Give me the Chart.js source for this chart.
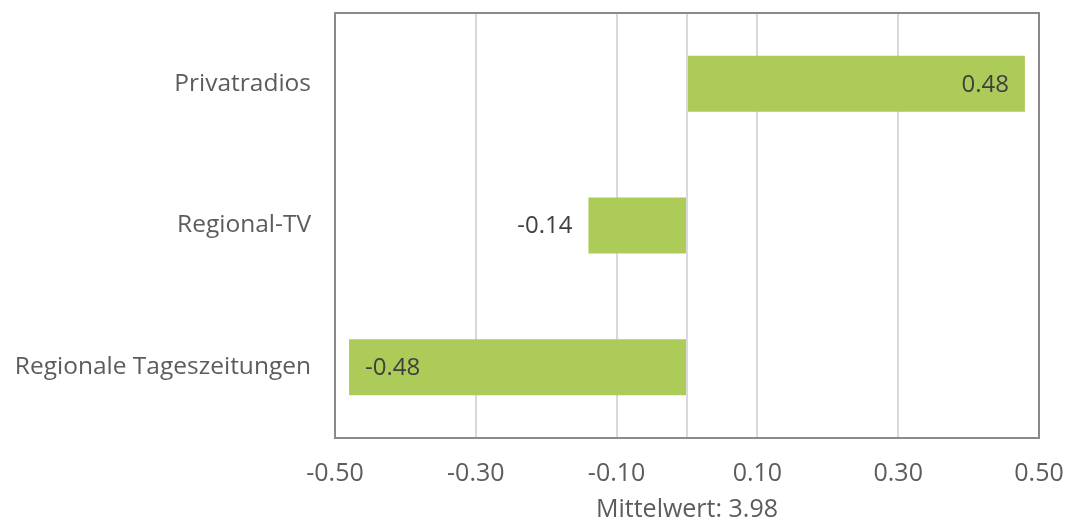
<!DOCTYPE html>
<html>
<head>
<meta charset="utf-8">
<script src="https://cdn.jsdelivr.net/npm/chart.js@4/dist/chart.umd.min.js"></script>
<style>
  html, body { margin: 0; padding: 0; background: #fff; }
  #wrap { width: 1069px; height: 522px; }
</style>
</head>
<body>
<div id="wrap"><canvas id="c" width="1069" height="522"></canvas></div>
<script>
// Abweichung vom Mittelwert je Medientyp
const categories = ['Privatradios', 'Regional-TV', 'Regionale Tageszeitungen'];
const values = [0.48, -0.14, -0.48];
const tickValues = [-0.5, -0.3, -0.1, 0, 0.1, 0.3, 0.5];
const axisTitle = 'Mittelwert: 3.98';

const FONT = '"Open Sans", "DejaVu Sans", sans-serif';
const TEXT = '#5c5c5c';

// Value labels: inside the bar end when the bar is long, otherwise just outside
const valueLabels = {
  id: 'valueLabels',
  afterDatasetsDraw(chart) {
    const ctx = chart.ctx;
    const meta = chart.getDatasetMeta(0);
    ctx.save();
    ctx.font = '24px ' + FONT;
    ctx.fillStyle = '#404040';
    ctx.textBaseline = 'middle';
    meta.data.forEach((bar, i) => {
      const v = values[i];
      const txt = v.toFixed(2);
      const inside = Math.abs(v) >= 0.3;
      const gap = 16;
      let x, align;
      if (v >= 0) {
        if (inside) { x = bar.x - gap; align = 'right'; }
        else { x = bar.x + gap; align = 'left'; }
      } else {
        if (inside) { x = bar.x + gap; align = 'left'; }
        else { x = bar.x - gap; align = 'right'; }
      }
      ctx.textAlign = align;
      ctx.fillText(txt, x, bar.y + 1);
    });
    ctx.restore();
  }
};

// Frame around the plot area
const frame = {
  id: 'frame',
  afterDraw(chart) {
    const a = chart.chartArea;
    const ctx = chart.ctx;
    ctx.save();
    ctx.strokeStyle = '#8a8a8a';
    ctx.lineWidth = 2;
    ctx.strokeRect(a.left, a.top, a.right - a.left, a.bottom - a.top);
    ctx.restore();
  }
};

new Chart(document.getElementById('c'), {
  type: 'bar',
  data: {
    labels: categories,
    datasets: [{
      data: values,
      backgroundColor: '#adcb58',
      borderWidth: 0,
      barPercentage: 0.395,
      categoryPercentage: 1.0
    }]
  },
  options: {
    indexAxis: 'y',
    responsive: false,
    animation: false,
    devicePixelRatio: 1,
    layout: { padding: { top: 13, right: 30, left: 0, bottom: 0 } },
    plugins: {
      legend: { display: false },
      tooltip: { enabled: false }
    },
    scales: {
      x: {
        min: -0.5,
        max: 0.5,
        afterBuildTicks(scale) {
          scale.ticks = tickValues.map(v => ({ value: v }));
        },
        afterFit(scale) {
          scale.height = 84;
          scale.paddingLeft = 0;
          scale.paddingRight = 0;
        },
        border: { display: false },
        grid: {
          color: '#d9d9d9',
          lineWidth: 2,
          drawTicks: false
        },
        ticks: {
          autoSkip: false,
          maxRotation: 0,
          padding: 21,
          color: TEXT,
          font: { family: FONT, size: 25 },
          callback(value) { return value === 0 ? '' : value.toFixed(2); }
        },
        title: {
          display: true,
          text: axisTitle,
          color: TEXT,
          font: { family: FONT, size: 25, lineHeight: 1.0 },
          padding: { top: 0, bottom: 0 }
        }
      },
      y: {
        afterFit(scale) {
          scale.width = 335;
          scale.paddingTop = 0;
          scale.paddingBottom = 0;
        },
        border: { display: false },
        grid: { display: false, drawTicks: false },
        ticks: {
          padding: 24,
          color: TEXT,
          font: { family: FONT, size: 24.5 }
        }
      }
    }
  },
  plugins: [valueLabels, frame]
});
</script>
</body>
</html>
